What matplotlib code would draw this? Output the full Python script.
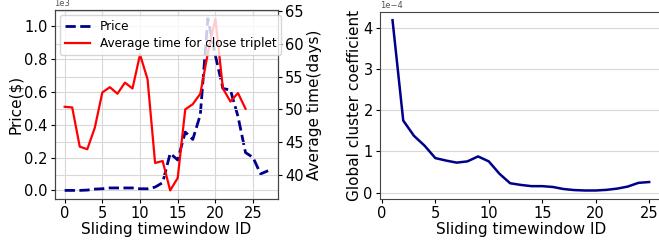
import matplotlib
matplotlib.use('Agg')
import matplotlib.pyplot as plt

# left panel: price (x 0..27) and average time (x 0..24)
price_x = list(range(28))
price = [0, 0, 0, 2, 8, 10, 15, 15, 15, 15, 10, 10, 20, 47, 225, 185, 355, 310, 460, 1045,
         820, 620, 610, 450, 230, 200, 100, 120]
avg_x = list(range(25))
avg_time = [50.4, 50.3, 44.3, 43.9, 47.2, 52.6, 53.4, 52.4, 54.1, 53.2, 58.4, 54.6, 41.8,
            42.1, 37.6, 39.5, 50.0, 50.8, 52.4, 58.6, 63.9, 53.2, 51.2, 52.5, 50.1]

# right panel: global cluster coefficient (x 1..25)
gcc_x = list(range(1, 26))
gcc = [4.18, 1.75, 1.38, 1.14, 0.84, 0.78, 0.73, 0.76, 0.88, 0.76, 0.46, 0.23, 0.19, 0.16,
       0.16, 0.14, 0.09, 0.065, 0.055, 0.055, 0.07, 0.10, 0.15, 0.24, 0.26]
gcc = [v * 1e-4 for v in gcc]

W, H = 659, 242
LBL = 11
TCK = 10.5
fig = plt.figure(figsize=(W / 100, H / 100), dpi=100)

ax1 = fig.add_axes([54.5 / W, 1 - 199 / H, (278.3 - 54.5) / W, (199 - 10) / H])
ax1.plot(price_x, price, '--', color='darkblue', lw=2, label='Price')
ax1.set_ylabel('Price($)', fontsize=LBL, labelpad=1)
ax1.set_xlabel('Sliding timewindow ID', fontsize=LBL, labelpad=1)
ax1.ticklabel_format(axis='y', style='sci', scilimits=(3, 3))
ax1.yaxis.get_offset_text().set_fontsize(6)
ax1.yaxis.get_offset_text().set_color('#555555')
ax1.set_xticks([0, 5, 10, 15, 20, 25])
ax1.tick_params(labelsize=TCK, length=3, pad=2)
ax1.grid(True, color='#d8d8d8', lw=0.8)

ax2 = ax1.twinx()
ax2.plot(avg_x, avg_time, '-', color='red', lw=1.6, label='Average time for close triplet')
ax2.set_ylabel('Average time(days)', fontsize=LBL, labelpad=2)
ax2.set_yticks([40, 45, 50, 55, 60, 65])
ax2.tick_params(labelsize=TCK, length=3, pad=2)
ax2.grid(True, axis='y', color='#d8d8d8', lw=0.8)
h1, l1 = ax1.get_legend_handles_labels()
h2, l2 = ax2.get_legend_handles_labels()
ax2.legend(h1 + h2, l1 + l2, loc='upper left', fontsize=8.7, borderaxespad=0.45,
           handlelength=2.1, labelspacing=0.3)

ax3 = fig.add_axes([379.7 / W, 1 - 199 / H, (662 - 379.7) / W, (199 - 11.7) / H])
ax3.plot(gcc_x, gcc, '-', color='darkblue', lw=1.8)
ax3.set_ylabel('Global cluster coefficient', fontsize=LBL, labelpad=1)
ax3.set_xlabel('Sliding timewindow ID', fontsize=LBL, labelpad=1)
ax3.ticklabel_format(axis='y', style='sci', scilimits=(-4, -4))
ax3.yaxis.get_offset_text().set_fontsize(6)
ax3.yaxis.get_offset_text().set_color('#555555')
ax3.set_yticks([0, 1e-4, 2e-4, 3e-4, 4e-4])
ax3.set_xticks([0, 5, 10, 15, 20, 25])
ax3.tick_params(labelsize=TCK, length=3, pad=2)
ax3.grid(True, axis='y', color='#d8d8d8', lw=0.8)

for ax in (ax1, ax2, ax3):
    for s in ax.spines.values():
        s.set_color('#444444')

fig.savefig('out.png', dpi=100)
